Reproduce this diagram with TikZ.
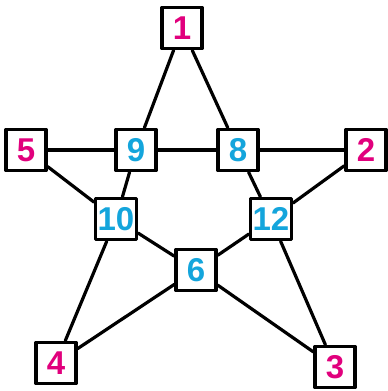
\documentclass[tikz,border=0pt]{standalone}
\usepackage{fontspec}
\setmainfont{Liberation Sans}
\definecolor{outc}{RGB}{225,0,125}
\definecolor{inc}{RGB}{20,165,220}
\begin{document}
\begin{tikzpicture}[x=1pt,y=-1pt, line join=round, line cap=round,
	box/.style={draw, line width=3.5pt, fill=white, minimum width=40pt, minimum height=41pt, inner sep=2pt, font=\bfseries\fontsize{33}{33}\selectfont},
	outer/.style={box, text=outc},
	inner/.style={box, text=inc}]
	\useasboundingbox (0,0) rectangle (388,391);
	% Đỉnh ngoài
	\node[outer] (n1) at (182,28) {1};
	\node[outer] (n2) at (366,150) {2};
	\node[outer] (n3) at (335,367) {3};
	\node[outer] (n4) at (56,363) {4};
	\node[outer] (n5) at (26,150) {5};
	% Đỉnh trong
	\node[inner] (n9) at (136,150) {9};
	\node[inner] (n8) at (238,150) {8};
	\node[inner] (n10) at (116,219) {10};
	\node[inner] (n12) at (271,219) {12};
	\node[inner] (n6) at (196,270) {6};
	\foreach \u/\v in {n1/n9,n1/n8,n5/n9,n9/n8,n8/n2,n5/n10,n9/n10,n8/n12,n2/n12,n10/n6,n12/n6,n10/n4,n4/n6,n6/n3,n12/n3}
		\draw[line width=3.2pt] (\u)--(\v);
\end{tikzpicture}
\end{document}
